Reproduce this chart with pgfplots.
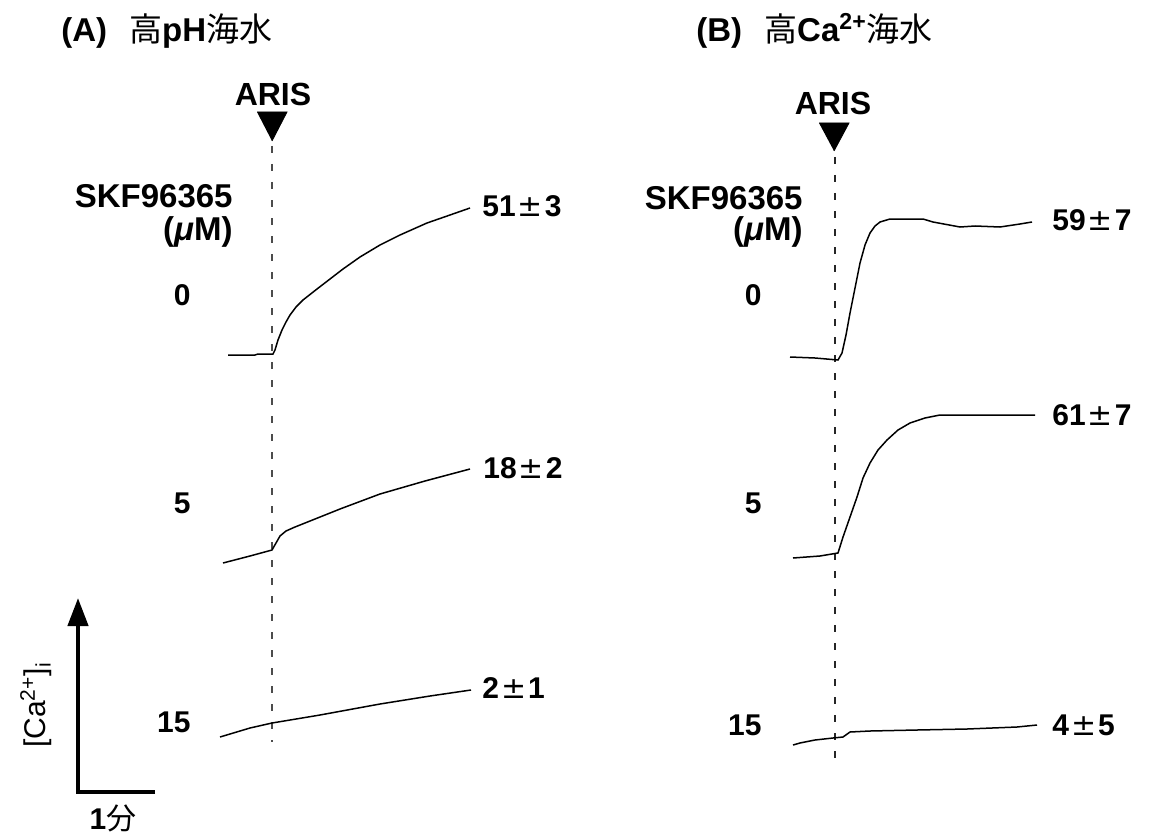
\documentclass[border=0pt]{standalone}
\usepackage{fontspec}
\setmainfont{Liberation Sans}
\newfontfamily\cjk{Noto Sans CJK JP}
\newfontfamily\dv{DejaVu Sans}
\usepackage{pgfplots}
\pgfplotsset{compat=1.18}
\usetikzlibrary{arrows.meta}
\newcommand{\PM}{{\dv\mdseries\hspace{1pt}±\hspace{1pt}}}
\begin{document}
\begin{tikzpicture}[every node/.append style={font=\fontsize{15}{18}\selectfont\bfseries, inner sep=0pt}]
\begin{axis}[scale only axis, width=577pt, height=417pt,
  xmin=0, xmax=1154, ymin=0, ymax=834, y dir=reverse,
  hide axis, clip=false]
\addplot[draw=none, mark=none, forget plot] coordinates {(0,0) (1154,834)};
% ---- ARIS markers and dashed lines
\addplot[fill=black, draw=black, mark=none] coordinates {(257,112) (287,112) (272,141)};
\addplot[fill=black, draw=black, mark=none] coordinates {(819,123) (849,123) (834,151)};
\addplot[black!70, line width=1.3pt, dash pattern=on 3.5pt off 5.5pt, mark=none] coordinates {(272,146) (272,742)};
\addplot[black!85, line width=1.3pt, dash pattern=on 3.5pt off 5.5pt, mark=none] coordinates {(835,157) (835,765)};
% ---- Panel A traces
\addplot[black, line width=0.75pt, mark=none] coordinates {
(228,355) (255,355) (258,354) (273,354) (275,350) (278,340) (282,330) (286,322) (290,315) (296,307) (303,300) (317,289) (330,279) (343,269) (360,257) (380,245) (400,235) (427,223) (450,215) (470,208)};
\addplot[black, line width=0.75pt, mark=none] coordinates {
(223,563) (250,556) (272,550) (276,543) (280,536) (286,531) (295,527) (310,521) (340,509) (380,494) (425,481) (470,469)};
\addplot[black, line width=0.75pt, mark=none] coordinates {
(220,737) (250,728) (272,723) (320,715) (380,704) (430,696) (471,690)};
% ---- Panel B traces
\addplot[black, line width=0.75pt, mark=none] coordinates {
(790,357) (815,358) (838,360) (842,353) (846,335) (850,313) (855,288) (860,263) (865,245) (870,233) (875,226) (880,222) (890,219) (923,219) (933,222) (960,227) (975,226) (1000,227) (1020,224) (1032,222)};
\addplot[black, line width=0.75pt, mark=none] coordinates {
(793,558) (820,556) (838,553) (843,537) (850,517) (857,497) (863,478) (870,463) (878,450) (887,440) (898,430) (910,423) (925,418) (940,415) (1035,415)};
\addplot[black, line width=0.75pt, mark=none] coordinates {
(793,745) (800,743) (815,740) (833,738) (843,737) (850,732) (870,731) (917,730) (967,729) (1017,727) (1037,725)};
% ---- scale bar
\addplot[black, line width=2.2pt, line join=miter, mark=none, -{Triangle[length=14pt,width=10pt]}] coordinates {(155,792) (78,792) (78,598)};
% ---- texts
\node[anchor=base west, font=\fontsize{16.5}{19}\selectfont\bfseries] at (axis cs:61,42) {(A)\hspace{11pt}{\cjk\mdseries 高}pH{\cjk\mdseries 海水}};
\node[anchor=base west, font=\fontsize{16.5}{19}\selectfont\bfseries] at (axis cs:696,42) {(B)\hspace{11pt}{\cjk\mdseries 高}Ca\textsuperscript{2+}{\cjk\mdseries 海水}};
\node[font=\fontsize{16}{19}\selectfont\bfseries] at (axis cs:273,94) {ARIS};
\node[font=\fontsize{16}{19}\selectfont\bfseries] at (axis cs:833,103) {ARIS};
\node[anchor=east, font=\fontsize{16.5}{19}\selectfont\bfseries] at (axis cs:233,196) {SKF96365};
\node[anchor=east, font=\fontsize{16.5}{19}\selectfont\bfseries] at (axis cs:233,232) {(\textit{μ}M)};
\node[anchor=east, font=\fontsize{16.5}{19}\selectfont\bfseries] at (axis cs:803,198) {SKF96365};
\node[anchor=east, font=\fontsize{16.5}{19}\selectfont\bfseries] at (axis cs:803,232) {(\textit{μ}M)};
\node[anchor=east] at (axis cs:191,295) {0};
\node[anchor=east] at (axis cs:191,503) {5};
\node[anchor=east] at (axis cs:191,722) {15};
\node[anchor=east] at (axis cs:762,295) {0};
\node[anchor=east] at (axis cs:762,503) {5};
\node[anchor=east] at (axis cs:762,725) {15};
\node[anchor=west] at (axis cs:482,206) {51\PM3};
\node[anchor=west] at (axis cs:483,468) {18\PM2};
\node[anchor=west] at (axis cs:482,688) {2\PM1};
\node[anchor=west] at (axis cs:1052,220) {59\PM7};
\node[anchor=west] at (axis cs:1052,415) {61\PM7};
\node[anchor=west] at (axis cs:1052,725) {4\PM5};
\node[rotate=90, font=\fontsize{15}{18}\selectfont] at (axis cs:36,705) {[Ca\textsuperscript{2+}]\textsubscript{i}};
\node at (axis cs:113,818) {1{\cjk\mdseries 分}};
\end{axis}
\end{tikzpicture}
\end{document}
